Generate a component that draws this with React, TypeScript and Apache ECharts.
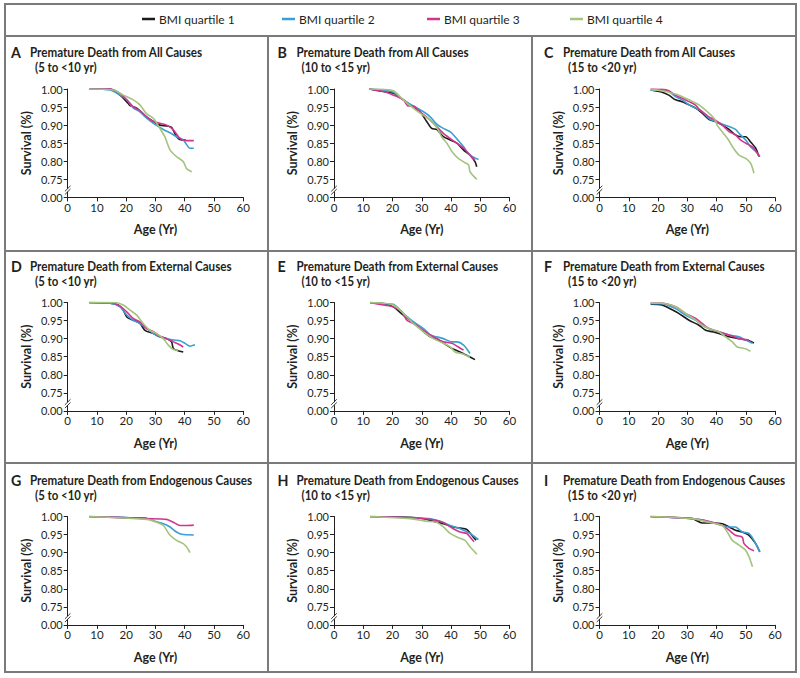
import React, { useEffect, useRef } from "react";
import * as echarts from "echarts";

// ---------- categories / labels ----------
const QUARTILES = ["BMI quartile 1", "BMI quartile 2", "BMI quartile 3", "BMI quartile 4"];
const PANEL_LETTERS = ["A", "B", "C", "D", "E", "F", "G", "H", "I"];
const CAUSES = ["Premature Death from All Causes", "Premature Death from External Causes", "Premature Death from Endogenous Causes"];
const AGE_GROUPS = ["(5 to <10 yr)", "(10 to <15 yr)", "(15 to <20 yr)"];
const X_MIN = 0, X_MAX = 60, X_STEP = 10;
// y axis: the lowest tick is a broken-axis stand-in for 0.00
const Y_MIN = 0.7, Y_MAX = 1.0, Y_STEP = 0.05;
const Y_BREAK_LABEL = "0.00";

// ---------- series values: [age (yr), survival] ----------
const A_Q1 = [[7.5,1.0],[14.5,1.0],[17.9,0.983],[20.7,0.96],[21.3,0.954],[23.6,0.947],[25.8,0.931],[27,0.922],[29.3,0.91],[31.5,0.9],[33.8,0.898],[35.5,0.894],[37.2,0.868],[38.9,0.859],[40.4,0.859]];
const A_Q2 = [[7.5,1.0],[14.5,0.997],[17.9,0.983],[20.2,0.97],[22.4,0.948],[24.7,0.937],[27,0.919],[29.3,0.905],[32.7,0.888],[35,0.879],[37.2,0.868],[39.5,0.859],[41.8,0.836],[43.1,0.836]];
const A_Q3 = [[7.5,1.0],[14.5,1.0],[17.9,0.988],[20.2,0.97],[22.4,0.951],[24.7,0.94],[27,0.923],[29.3,0.91],[31.5,0.905],[33.8,0.9],[36.1,0.887],[38.4,0.863],[40.6,0.857],[43.1,0.857]];
const A_Q4 = [[7.5,1.0],[15.6,0.997],[19,0.983],[22.4,0.97],[24.7,0.956],[27,0.931],[29.3,0.919],[31.5,0.891],[33.2,0.868],[35,0.831],[37.2,0.813],[39.5,0.799],[40.6,0.78],[42.4,0.771]];

const B_Q1 = [[12.1,1.0],[16.9,0.993],[20.3,0.988],[23.7,0.97],[27.1,0.951],[29.4,0.937],[31.7,0.91],[33.4,0.891],[35.1,0.888],[37.4,0.868],[39.7,0.859],[42,0.85],[44.3,0.831],[46.5,0.817],[48.2,0.799],[48.8,0.785]];
const B_Q2 = [[12.1,1.0],[16.9,0.997],[20.3,0.991],[23.7,0.97],[27.1,0.953],[30.6,0.937],[32.9,0.923],[35.1,0.903],[37.4,0.891],[39.7,0.882],[41.4,0.868],[44.3,0.84],[46.5,0.817],[49.4,0.805]];
const B_Q3 = [[12.1,1.0],[16.9,0.993],[20.3,0.983],[23.7,0.97],[25.4,0.953],[27.1,0.953],[29.4,0.937],[32.9,0.914],[35.1,0.896],[37.4,0.877],[39.7,0.863],[42,0.85],[44.3,0.836],[46.5,0.817],[48.2,0.803]];
const B_Q4 = [[12.1,1.0],[16.9,0.999],[20.3,0.995],[23.7,0.97],[27.1,0.947],[29.4,0.933],[32.9,0.914],[35.1,0.894],[36.8,0.868],[38.6,0.85],[40.3,0.827],[42.5,0.808],[44.8,0.796],[46,0.79],[46.5,0.771],[48.8,0.75]];

const C_Q1 = [[17.5,0.997],[21.4,0.991],[23.7,0.983],[26,0.97],[28.3,0.965],[30.6,0.956],[32.9,0.947],[35.1,0.933],[37.4,0.916],[39.6,0.91],[42,0.9],[44.3,0.888],[46.5,0.873],[48.2,0.868],[50,0.868],[51.6,0.854],[53.4,0.836],[54.5,0.813]];
const C_Q2 = [[17.5,0.997],[21.4,0.997],[23.7,0.993],[26,0.979],[28.3,0.97],[30.6,0.956],[32.9,0.947],[35.1,0.937],[37.4,0.919],[39.6,0.91],[42,0.903],[44.3,0.896],[46.5,0.888],[48.2,0.873],[50,0.859],[51.6,0.84],[53.4,0.827],[54.8,0.813]];
const C_Q3 = [[17.5,1.0],[21.4,0.999],[23.7,0.995],[26,0.983],[28.3,0.974],[30.6,0.965],[32.7,0.956],[34.4,0.942],[37.4,0.923],[39.6,0.914],[42,0.9],[44.3,0.882],[46.5,0.873],[48.2,0.859],[50,0.85],[52.3,0.84],[54,0.822],[54.8,0.813]];
const C_Q4 = [[17.5,0.999],[21.4,0.995],[23.7,0.991],[27.1,0.983],[30.6,0.97],[34,0.956],[37.4,0.933],[39.6,0.914],[40.2,0.9],[42.4,0.877],[44.1,0.859],[45.8,0.836],[47.7,0.817],[50,0.808],[51.7,0.794],[52.8,0.767]];

const D_Q1 = [[7.4,1.0],[14.5,0.998],[17.3,0.993],[19,0.979],[20.2,0.96],[22.4,0.951],[24.7,0.942],[26.4,0.923],[29.3,0.914],[31.5,0.905],[33.8,0.9],[35.5,0.891],[36.1,0.873],[37.2,0.868],[39.5,0.863]];
const D_Q2 = [[7.4,1.0],[14.5,0.998],[17.9,0.988],[20.2,0.965],[22.4,0.951],[24.7,0.942],[27,0.928],[29.3,0.914],[31.5,0.905],[33.8,0.9],[36.1,0.896],[38.4,0.894],[40.1,0.887],[41.8,0.879],[43.5,0.883]];
const D_Q3 = [[7.4,1.0],[14.5,1.0],[17.9,0.99],[20.2,0.974],[22.4,0.956],[24.7,0.946],[27,0.928],[29.3,0.919],[31.5,0.907],[33.8,0.9],[36.1,0.891],[37.8,0.885],[39.5,0.877]];
const D_Q4 = [[7.4,1.0],[16.2,1.0],[19,0.993],[21.3,0.979],[23.6,0.965],[25.8,0.942],[28.1,0.923],[30.4,0.914],[32.7,0.9],[34.4,0.882],[36.1,0.87],[37.8,0.868]];

const E_Q1 = [[12.3,1.0],[16.9,0.997],[20.3,0.988],[23.7,0.965],[26,0.951],[28.3,0.937],[30.6,0.919],[32.9,0.905],[35.1,0.9],[38,0.885],[40.3,0.873],[43.1,0.863],[46,0.851],[48.2,0.842]];
const E_Q2 = [[12.3,1.0],[16.9,0.997],[20.3,0.995],[23.7,0.97],[27.1,0.947],[30.6,0.928],[32.9,0.91],[35.1,0.905],[37.4,0.9],[40.3,0.891],[42,0.891],[44.3,0.882],[46.5,0.859]];
const E_Q3 = [[12.3,1.0],[16.9,0.993],[20.3,0.988],[23.2,0.974],[24.9,0.951],[27.1,0.942],[30.6,0.923],[32.9,0.91],[35.1,0.9],[37.4,0.891],[40.3,0.887],[42.5,0.877],[44.3,0.868]];
const E_Q4 = [[12.3,1.0],[16.9,0.998],[20.3,0.993],[23.7,0.97],[27.1,0.942],[30.6,0.919],[34,0.9],[37.4,0.887],[39.7,0.877],[41.4,0.863],[44.3,0.857],[46.5,0.848]];

const F_Q1 = [[17.5,0.995],[21.4,0.993],[25,0.979],[27.1,0.97],[30.6,0.951],[34,0.937],[36.3,0.923],[38.6,0.919],[40.8,0.914],[44.3,0.905],[47.7,0.9],[51.1,0.894],[52.8,0.888]];
const F_Q2 = [[17.5,0.997],[21.4,0.997],[26,0.983],[29.4,0.965],[32.9,0.951],[35.1,0.937],[37.4,0.928],[40.8,0.919],[44.3,0.91],[47.7,0.905],[50,0.896],[52.3,0.887]];
const F_Q3 = [[17.5,0.998],[21.4,0.998],[26,0.988],[29.4,0.97],[32.9,0.956],[35.1,0.942],[37.4,0.928],[40.8,0.919],[44.3,0.91],[47.7,0.9],[51.1,0.896]];
const F_Q4 = [[17.5,0.998],[21.4,0.998],[26,0.988],[29.4,0.97],[32.9,0.951],[35.1,0.937],[37.4,0.928],[40.8,0.919],[43.1,0.905],[45.4,0.891],[47.1,0.877],[49.9,0.872],[51.6,0.865]];

const G_Q1 = [[7.4,1.0],[27,0.995]];
const G_Q2 = [[7.4,1.0],[27,0.994],[29.8,0.987],[32.7,0.98],[35,0.971],[37.2,0.957],[38.9,0.951],[43.1,0.949]];
const G_Q3 = [[7.4,1.0],[27,0.994],[33.8,0.992],[36.1,0.984],[38.4,0.975],[40.6,0.975],[43.1,0.976]];
const G_Q4 = [[7.4,1.0],[27,0.992],[30.4,0.984],[32.7,0.975],[35,0.948],[37.2,0.934],[39.5,0.925],[40.6,0.916],[41.8,0.9]];

const H_Q1 = [[12.3,1.0],[26,0.998],[30.6,0.994],[32.9,0.989],[37.4,0.98],[40.8,0.971],[43.1,0.968],[45.4,0.964],[47.1,0.948],[48.6,0.934]];
const H_Q2 = [[12.3,1.0],[28.3,0.996],[32.9,0.994],[36.3,0.987],[39.7,0.975],[43.1,0.966],[46.5,0.953],[49.4,0.936]];
const H_Q3 = [[12.3,1.0],[28.3,0.996],[34,0.991],[37.4,0.983],[40.8,0.966],[43.1,0.957],[45.4,0.953],[46.5,0.943],[47.9,0.93]];
const H_Q4 = [[12.3,1.0],[26,0.994],[31.7,0.987],[35.1,0.984],[37.4,0.971],[39.7,0.953],[42,0.943],[44.8,0.934],[46.5,0.916],[48.8,0.896]];

const I_Q1 = [[17.5,1.0],[31.7,0.994],[35.1,0.982],[38.6,0.982],[42,0.98],[44.3,0.971],[46.5,0.962],[48.8,0.957],[51.1,0.948],[53.4,0.925],[54.8,0.902]];
const I_Q2 = [[17.5,1.0],[31.7,0.994],[37.4,0.986],[42,0.975],[44.3,0.971],[46.5,0.971],[48.8,0.957],[51.1,0.953],[52.8,0.934],[54.8,0.902]];
const I_Q3 = [[17.5,1.0],[31.7,0.994],[37.4,0.986],[42,0.975],[44.3,0.962],[46.5,0.948],[48.8,0.943],[49.4,0.925],[51.1,0.912],[52.8,0.905]];
const I_Q4 = [[17.5,1.0],[31.7,0.994],[37.4,0.984],[42,0.975],[43.7,0.957],[45.4,0.934],[47.7,0.921],[49.9,0.907],[51.1,0.889],[52.3,0.861]];

const PANEL_DATA = [
  [A_Q1, A_Q2, A_Q3, A_Q4], [B_Q1, B_Q2, B_Q3, B_Q4], [C_Q1, C_Q2, C_Q3, C_Q4],
  [D_Q1, D_Q2, D_Q3, D_Q4], [E_Q1, E_Q2, E_Q3, E_Q4], [F_Q1, F_Q2, F_Q3, F_Q4],
  [G_Q1, G_Q2, G_Q3, G_Q4], [H_Q1, H_Q2, H_Q3, H_Q4], [I_Q1, I_Q2, I_Q3, I_Q4],
];

// ---------- styling / layout ----------
const COLORS = ["#1b1b1b", "#3a9fd3", "#d2358f", "#a4c47e"];
const FONT = "Lato, 'Noto Sans', sans-serif";
const TEXT = "#231f20";
const FRAME = "#7a7a7a";
const COL_X = [67.7, 334, 599.5];
const COL_OFF = [0, 266.5, 533];
const ROW_Y = [89, 302.5, 516.5];
const ROW_OFF = [0, 214, 428];
const PLOT_W = 175.5;
const PLOT_H = 108.4;
const LEGEND_X = [142, 282, 427, 570];
// heading widths seen in the reference (px), used to condense the substitute typeface
const HEAD_SIZE = 13.5;
const HEAD_W_ALL = 172;      // "Premature Death from All Causes"
const HEAD_W_ENDO = 223;     // "Premature Death from Endogenous Causes"
const SUB_W_FIRST = 62;      // "(5 to <10 yr)"

function measure(text: string, font: string): number {
  const ctx = document.createElement("canvas").getContext("2d");
  if (!ctx) return text.length * 7;
  ctx.font = font;
  return ctx.measureText(text).width;
}

export default function App() {
  const ref = useRef<HTMLDivElement>(null);

  useEffect(() => {
    if (!ref.current) return;
    const chart = echarts.init(ref.current, undefined, { renderer: "svg" });

    const headFont = `bold ${HEAD_SIZE}px Lato`;
    const wAll = measure(CAUSES[0], headFont);
    const wEndo = measure(CAUSES[2], headFont);
    const headScale = Math.min(1, (HEAD_W_ALL + HEAD_W_ENDO) / (wAll + wEndo));
    const subScale = Math.min(1, SUB_W_FIRST / measure(AGE_GROUPS[0], headFont));

    const grid: any[] = [];
    const xAxis: any[] = [];
    const yAxis: any[] = [];
    const series: any[] = [];
    const elements: any[] = [];

    for (let p = 0; p < 9; p++) {
      const r = Math.floor(p / 3);
      const c = p % 3;
      grid.push({ left: COL_X[c], top: ROW_Y[r], width: PLOT_W, height: PLOT_H });
      xAxis.push({
        type: "value", gridIndex: p, min: X_MIN, max: X_MAX, interval: X_STEP,
        axisLine: { show: true, onZero: false, lineStyle: { color: TEXT, width: 1 } },
        axisTick: { show: true, length: 4, lineStyle: { color: TEXT } },
        axisLabel: { fontSize: 11.5, color: TEXT, fontFamily: FONT, margin: 4 },
        splitLine: { show: false },
        name: "Age (Yr)", nameLocation: "middle", nameGap: 26,
        nameTextStyle: { fontSize: 12.5, fontWeight: "bold", color: TEXT, fontFamily: FONT },
      });
      yAxis.push({
        type: "value", gridIndex: p, min: Y_MIN, max: Y_MAX, interval: Y_STEP,
        axisLine: { show: true, onZero: false, lineStyle: { color: TEXT, width: 1 } },
        axisTick: { show: true, length: 4, lineStyle: { color: TEXT } },
        axisLabel: {
          fontSize: 11, color: TEXT, fontFamily: FONT, margin: 5,
          formatter: (v: number) => (v < Y_MIN + Y_STEP / 2 ? Y_BREAK_LABEL : v.toFixed(2)),
        },
        splitLine: { show: false },
        name: "Survival (%)", nameLocation: "middle", nameGap: 35,
        nameTextStyle: { fontSize: 12.5, fontWeight: "bold", color: TEXT, fontFamily: FONT },
      });
      PANEL_DATA[p].forEach((d, q) => {
        series.push({
          type: "line", name: QUARTILES[q], xAxisIndex: p, yAxisIndex: p,
          data: d, showSymbol: false, symbol: "none", smooth: 0.25,
          lineStyle: { color: COLORS[q], width: 1.6 }, itemStyle: { color: COLORS[q] },
          z: 2 + q,
        });
      });
      // panel headings (condensed via scaleX to mimic the narrow typeface)
      const tx = COL_OFF[c];
      const ty = ROW_OFF[r];
      elements.push({
        type: "text", x: 11 + tx, y: 52 + ty, scaleX: 0.92, silent: true,
        style: { text: PANEL_LETTERS[p], fontSize: 15.5, fontWeight: "bold", fontFamily: FONT, fill: TEXT, align: "left", verticalAlign: "middle" },
      });
      elements.push({
        type: "text", x: 30 + tx, y: 52.5 + ty, scaleX: headScale, silent: true,
        style: { text: CAUSES[r], fontSize: HEAD_SIZE, fontWeight: "bold", fontFamily: FONT, fill: TEXT, align: "left", verticalAlign: "middle" },
      });
      elements.push({
        type: "text", x: 35 + tx, y: 67 + ty, scaleX: subScale, silent: true,
        style: { text: AGE_GROUPS[c], fontSize: HEAD_SIZE, fontWeight: "bold", fontFamily: FONT, fill: TEXT, align: "left", verticalAlign: "middle" },
      });
    }

    const legend = QUARTILES.map((name, i) => ({
      data: [name], left: LEGEND_X[i], top: 13, padding: 0,
      icon: "rect", itemWidth: 13, itemHeight: 2.5, itemGap: 0,
      selectedMode: false,
      textStyle: { fontSize: 12, color: TEXT, fontFamily: FONT, padding: [0, 0, 0, -1] },
    }));

    chart.setOption({
      animation: false,
      backgroundColor: "#ffffff",
      textStyle: { fontFamily: FONT },
      grid, xAxis, yAxis, series, legend,
    });

    // frame + axis-break marks
    elements.push(
      { type: "rect", shape: { x: 5, y: 4, width: 791, height: 668 }, style: { fill: "none", stroke: FRAME, lineWidth: 2 }, silent: true },
      { type: "line", shape: { x1: 5, y1: 36, x2: 796, y2: 36 }, style: { stroke: FRAME, lineWidth: 2 }, silent: true },
      { type: "line", shape: { x1: 5, y1: 251, x2: 796, y2: 251 }, style: { stroke: FRAME, lineWidth: 2 }, silent: true },
      { type: "line", shape: { x1: 5, y1: 463, x2: 796, y2: 463 }, style: { stroke: FRAME, lineWidth: 2 }, silent: true },
      { type: "line", shape: { x1: 268, y1: 36, x2: 268, y2: 672 }, style: { stroke: FRAME, lineWidth: 2 }, silent: true },
      { type: "line", shape: { x1: 532, y1: 36, x2: 532, y2: 672 }, style: { stroke: FRAME, lineWidth: 2 }, silent: true },
    );
    for (let p = 0; p < 9; p++) {
      const pt = chart.convertToPixel({ gridIndex: p }, [X_MIN, Y_MIN + Y_STEP * 0.4]) as number[];
      if (!pt) continue;
      const [x, y] = pt;
      elements.push({ type: "rect", shape: { x: x - 2, y: y - 1.5, width: 4, height: 3 }, style: { fill: "#fff" }, z: 50, silent: true });
      [-1.6, 1.6].forEach((d) => {
        elements.push({
          type: "line", shape: { x1: x - 2.8, y1: y + d + 2.8, x2: x + 2.8, y2: y + d - 2.8 },
          style: { stroke: TEXT, lineWidth: 0.9 }, z: 51, silent: true,
        });
      });
    }
    chart.setOption({ graphic: { elements } });

    return () => chart.dispose();
  }, []);

  return (
    <div
      ref={ref}
      style={{ position: "fixed", left: 0, top: 0, width: 800, height: 678, background: "#fff" }}
    />
  );
}
